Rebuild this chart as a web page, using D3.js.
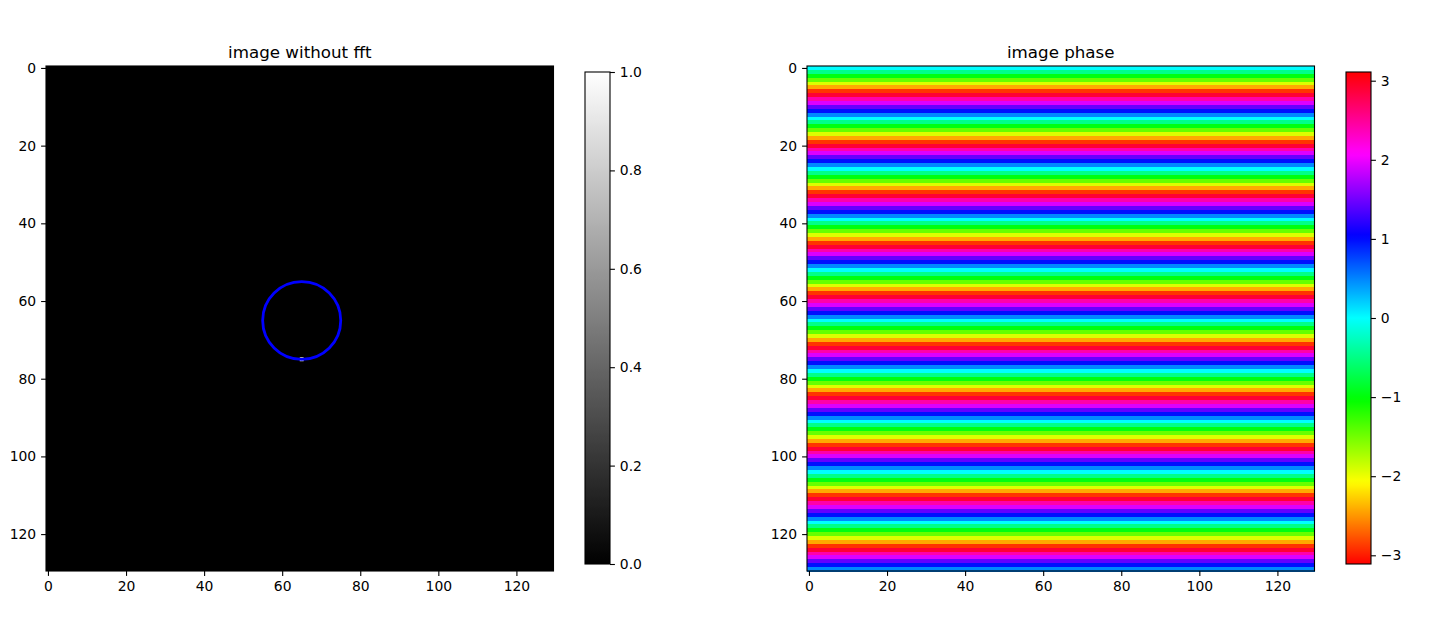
<!DOCTYPE html>
<html>
<head>
<meta charset="utf-8">
<script src="https://cdn.jsdelivr.net/npm/d3@7"></script>
<style>
  body { margin: 0; background: #fff; }
  svg { font-family: "DejaVu Sans", sans-serif; }
</style>
</head>
<body>
<svg width="1451" height="636"></svg>
<script>
// image is 130 x 130 pixels
var imageSize = 130;
var axisTicks = [0, 20, 40, 60, 80, 100, 120];

// left panel: black image, one bright pixel, blue circle drawn on top
var brightPixels = [{row: 75, col: 65, value: 1}];
var circleCenter = [65, 65];
var circleRadius = 10;
var grayTicks = [0, 0.2, 0.4, 0.6, 0.8, 1.0];
var grayRange = [0, 1];

// right panel: phase of each row (same along every column)
var rowPhase = [
  0.00, -0.48, -0.97, -1.45, -1.93, -2.42, -2.90, 2.90, 2.42, 1.93, 1.45, 0.97, 0.48,
  0.00, -0.48, -0.97, -1.45, -1.93, -2.42, -2.90, 2.90, 2.42, 1.93, 1.45, 0.97, 0.48,
  0.00, -0.48, -0.97, -1.45, -1.93, -2.42, -2.90, 2.90, 2.42, 1.93, 1.45, 0.97, 0.48,
  0.00, -0.48, -0.97, -1.45, -1.93, -2.42, -2.90, 2.90, 2.42, 1.93, 1.45, 0.97, 0.48,
  0.00, -0.48, -0.97, -1.45, -1.93, -2.42, -2.90, 2.90, 2.42, 1.93, 1.45, 0.97, 0.48,
  0.00, -0.48, -0.97, -1.45, -1.93, -2.42, -2.90, 2.90, 2.42, 1.93, 1.45, 0.97, 0.48,
  0.00, -0.48, -0.97, -1.45, -1.93, -2.42, -2.90, 2.90, 2.42, 1.93, 1.45, 0.97, 0.48,
  0.00, -0.48, -0.97, -1.45, -1.93, -2.42, -2.90, 2.90, 2.42, 1.93, 1.45, 0.97, 0.48,
  0.00, -0.48, -0.97, -1.45, -1.93, -2.42, -2.90, 2.90, 2.42, 1.93, 1.45, 0.97, 0.48,
  0.00, -0.48, -0.97, -1.45, -1.93, -2.42, -2.90, 2.90, 2.42, 1.93, 1.45, 0.97, 0.48
];
var phaseTicks = [-3, -2, -1, 0, 1, 2, 3];
var phaseRange = [-3.11, 3.11];

var svg = d3.select("svg");
var tickLen = 4.9, tickPad = 4.9, fontSize = "13.9px";

var grayColor = d3.scaleLinear().domain(grayRange).range(["#000000", "#ffffff"]);
var hsvColor = d3.scaleSequential(function(t) { return d3.hsl(t * 360, 1, 0.5).toString(); })
    .domain(phaseRange);

function makePanel(left, right, top, bottom, title) {
  var x = d3.scaleLinear().domain([-0.5, imageSize - 0.5]).range([left, right]);
  var y = d3.scaleLinear().domain([-0.5, imageSize - 0.5]).range([top, bottom]);
  var g = svg.append("g");

  g.append("text")
    .attr("x", (left + right) / 2)
    .attr("y", top - 8.3)
    .attr("text-anchor", "middle")
    .style("font-size", "16.7px")
    .text(title);

  return {x: x, y: y, g: g, left: left, right: right, top: top, bottom: bottom};
}

function drawAxes(p) {
  var ax = p.g.append("g")
    .attr("transform", "translate(0," + p.bottom + ")")
    .call(d3.axisBottom(p.x).tickValues(axisTicks).tickSize(tickLen).tickPadding(tickPad));
  var ay = p.g.append("g")
    .attr("transform", "translate(" + p.left + ",0)")
    .call(d3.axisLeft(p.y).tickValues(axisTicks).tickSize(tickLen).tickPadding(tickPad));
  [ax, ay].forEach(function(a) {
    a.select(".domain").remove();
    a.selectAll("line").attr("stroke", "#000").attr("stroke-width", 1.1);
    a.selectAll("text").style("font-size", fontSize).attr("fill", "#000")
      .style("font-family", "DejaVu Sans, sans-serif");
  });
  p.g.append("rect")
    .attr("x", p.left).attr("y", p.top)
    .attr("width", p.right - p.left).attr("height", p.bottom - p.top)
    .attr("fill", "none").attr("stroke", "#000").attr("stroke-width", 1.1);
}

function drawColorbar(id, left, width, top, bottom, domain, color, ticks, fmt) {
  var scale = d3.scaleLinear().domain(domain).range([bottom, top]);
  var grad = svg.append("defs").append("linearGradient")
    .attr("id", id).attr("x1", 0).attr("y1", 1).attr("x2", 0).attr("y2", 0);
  d3.range(0, 101).forEach(function(i) {
    var t = i / 100;
    grad.append("stop")
      .attr("offset", t)
      .attr("stop-color", color(domain[0] + t * (domain[1] - domain[0])));
  });
  var g = svg.append("g");
  g.append("rect")
    .attr("x", left).attr("y", top).attr("width", width).attr("height", bottom - top)
    .attr("fill", "url(#" + id + ")")
    .attr("stroke", "#000").attr("stroke-width", 1.1);
  var a = g.append("g")
    .attr("transform", "translate(" + (left + width) + ",0)")
    .call(d3.axisRight(scale).tickValues(ticks).tickSize(tickLen).tickPadding(tickPad).tickFormat(fmt));
  a.select(".domain").remove();
  a.selectAll("line").attr("stroke", "#000").attr("stroke-width", 1.1);
  a.selectAll("text").style("font-size", fontSize).attr("fill", "#000")
    .style("font-family", "DejaVu Sans, sans-serif");
}

// ---- left panel ----
var p1 = makePanel(46, 553.5, 66, 571, "image without fft");
var px1 = p1.x(1) - p1.x(0), py1 = p1.y(1) - p1.y(0);

p1.g.append("rect")
  .attr("x", p1.x(-0.5)).attr("y", p1.y(-0.5))
  .attr("width", p1.x(imageSize - 0.5) - p1.x(-0.5))
  .attr("height", p1.y(imageSize - 0.5) - p1.y(-0.5))
  .attr("fill", grayColor(0));

p1.g.selectAll("rect.pix")
  .data(brightPixels)
  .enter().append("rect")
    .attr("class", "pix")
    .attr("x", function(d) { return p1.x(d.col - 0.5); })
    .attr("y", function(d) { return p1.y(d.row - 0.5); })
    .attr("width", px1)
    .attr("height", py1)
    .attr("fill", function(d) { return grayColor(d.value); });

p1.g.append("ellipse")
  .attr("cx", p1.x(circleCenter[0]))
  .attr("cy", p1.y(circleCenter[1]))
  .attr("rx", p1.x(circleRadius) - p1.x(0))
  .attr("ry", p1.y(circleRadius) - p1.y(0))
  .attr("fill", "none")
  .attr("stroke", "#0000ff")
  .attr("stroke-width", 2.8);

drawAxes(p1);
drawColorbar("grayGrad", 585, 25, 72, 564, grayRange, grayColor, grayTicks, d3.format(".1f"));

// ---- right panel ----
var p2 = makePanel(807, 1314.5, 66, 571, "image phase");

p2.g.append("g")
  .attr("shape-rendering", "crispEdges")
  .selectAll("rect")
  .data(rowPhase)
  .enter().append("rect")
    .attr("x", p2.x(-0.5))
    .attr("y", function(d, i) { return p2.y(i - 0.5); })
    .attr("width", p2.x(imageSize - 0.5) - p2.x(-0.5))
    .attr("height", function(d, i) { return p2.y(i + 0.5) - p2.y(i - 0.5) + 0.5; })
    .attr("fill", function(d) { return hsvColor(d); });

drawAxes(p2);
drawColorbar("hsvGrad", 1346, 25, 72, 564, phaseRange, hsvColor, phaseTicks, d3.format("d"));
</script>
</body>
</html>
